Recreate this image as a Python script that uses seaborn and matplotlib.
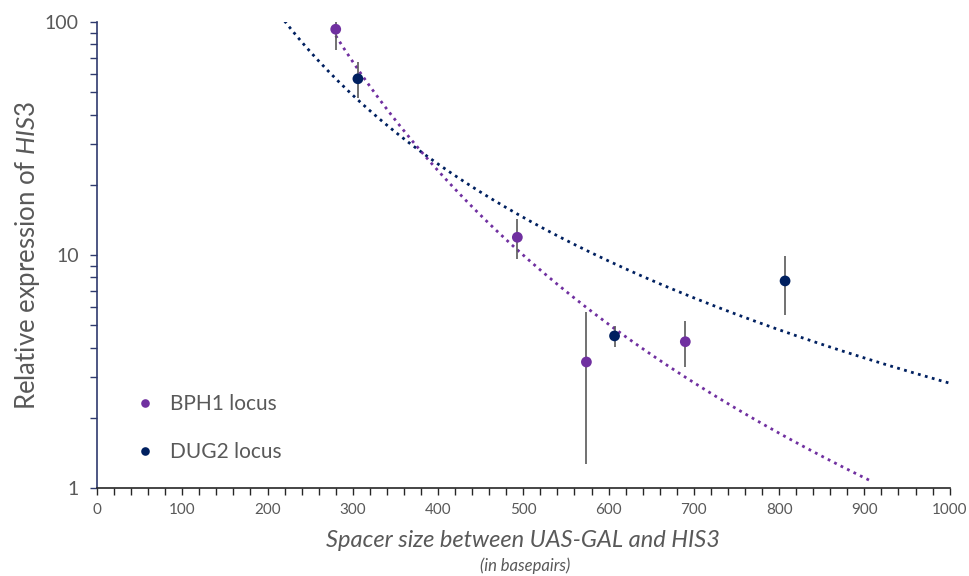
import numpy as np
import pandas as pd
import matplotlib
matplotlib.use("Agg")
import matplotlib.pyplot as plt
import seaborn as sns
from matplotlib.ticker import MultipleLocator, LogLocator, NullFormatter, FixedLocator

# data
bph1_x = [280, 493, 574, 690]
bph1_y = [93, 11.9, 3.47, 4.24]
bph1_err = [17, 2.3, 2.2, 0.95]

dug2_x = [306, 607, 807]
dug2_y = [57, 4.49, 7.73]
dug2_err = [10, 0.45, 2.2]

# trendline extents (power fit, Excel style)
bph1_range = [280, 910]
dug2_range = [220, 1000]

purple = "#7030A0"
navy = "#002060"
grey = "#595959"

sns.set_theme(style="white")
plt.rcParams["font.family"] = ["Lato", "DejaVu Sans"]
plt.rcParams["mathtext.fontset"] = "custom"
plt.rcParams["mathtext.it"] = "Lato:italic"
plt.rcParams["mathtext.rm"] = "Lato"

df = pd.concat([
    pd.DataFrame({"x": bph1_x, "y": bph1_y, "err": bph1_err, "locus": "BPH1 locus"}),
    pd.DataFrame({"x": dug2_x, "y": dug2_y, "err": dug2_err, "locus": "DUG2 locus"}),
])


def power_fit(x, y, lo, hi):
    b, ln_a = np.polyfit(np.log(x), np.log(y), 1)
    xs = np.linspace(lo, hi, 200)
    return pd.DataFrame({"x": xs, "y": np.exp(ln_a) * xs ** b})


fig, ax = plt.subplots(figsize=(9.7, 5.76), dpi=100)
fig.subplots_adjust(left=0.1, right=0.979, bottom=0.153, top=0.962)

trend_b = power_fit(bph1_x, bph1_y, *bph1_range)
trend_d = power_fit(dug2_x, dug2_y, *dug2_range)
sns.lineplot(data=trend_d, x="x", y="y", ax=ax, color=navy, linewidth=2,
             linestyle=(0, (1, 1.6)), legend=False)
sns.lineplot(data=trend_b, x="x", y="y", ax=ax, color=purple, linewidth=2,
             linestyle=(0, (1, 1.6)), legend=False)

ax.errorbar(df["x"], df["y"], yerr=df["err"], fmt="none", ecolor=grey,
            elinewidth=1.2, capsize=0, zorder=3)
sns.scatterplot(data=df, x="x", y="y", hue="locus", ax=ax,
                palette={"BPH1 locus": purple, "DUG2 locus": navy},
                s=60, edgecolor="none", zorder=4)

ax.set_yscale("log")
ax.set_ylim(1, 100)
ax.set_xlim(0, 1000)
ax.xaxis.set_major_locator(MultipleLocator(100))
ax.xaxis.set_minor_locator(MultipleLocator(20))
ax.yaxis.set_major_locator(FixedLocator([1, 10, 100]))
ax.yaxis.set_major_formatter(matplotlib.ticker.FuncFormatter(lambda v, p: f"{v:g}"))
ax.yaxis.set_minor_locator(LogLocator(base=10, subs=np.arange(2, 10)))
ax.yaxis.set_minor_formatter(NullFormatter())

for s in ["top", "right"]:
    ax.spines[s].set_visible(False)
ax.spines["left"].set_color("#2F3A6E")
ax.spines["bottom"].set_color("#262626")
ax.spines["left"].set_linewidth(1.2)
ax.spines["bottom"].set_linewidth(1.2)

ax.tick_params(axis="x", which="both", direction="out", length=5, width=1,
               color="#262626", bottom=True, labelsize=11, labelcolor=grey, pad=6)
ax.tick_params(axis="y", which="both", direction="out", length=5, width=1,
               color="#2F3A6E", left=True, labelsize=14, labelcolor=grey, pad=8)

ax.set_ylabel(r"Relative expression of $\it{HIS3}$", fontsize=18.5, color=grey, labelpad=2)
ax.set_xlabel("Spacer size between UAS-GAL and HIS3", fontsize=17, color=grey,
              style="italic", labelpad=9)
fig.text(0.541, 0.003, "(in basepairs)", fontsize=12, color=grey,
         style="italic", ha="center", va="bottom")

ax.legend(title=None, frameon=False, loc="lower left", bbox_to_anchor=(0.01, 0.015),
          fontsize=15, labelcolor=grey, markerscale=0.8, handletextpad=0.2,
          labelspacing=1.35)

fig.savefig("out.png", dpi=100)
